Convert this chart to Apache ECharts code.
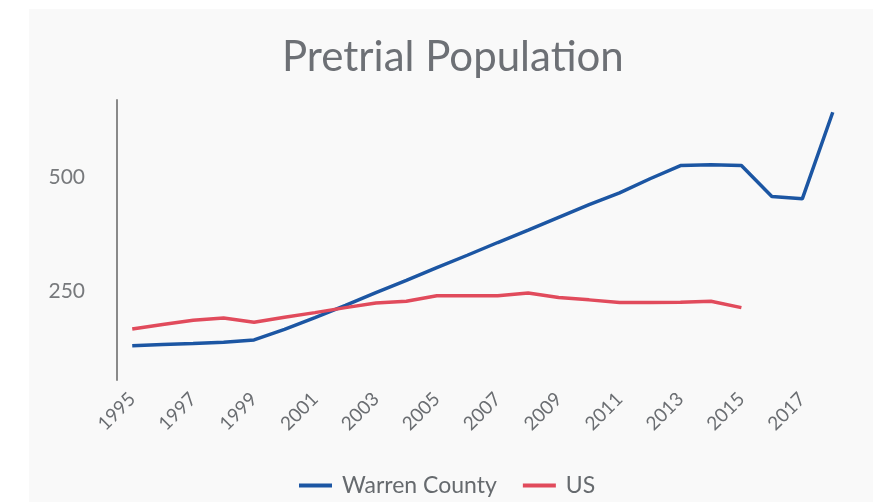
<!DOCTYPE html>
<html>
<head>
<meta charset="utf-8">
<script src="https://cdn.jsdelivr.net/npm/echarts@6/dist/echarts.min.js"></script>
<style>
html,body{margin:0;padding:0;background:#ffffff;}
#chart{width:873px;height:502px;}
</style>
</head>
<body>
<div id="chart"></div>
<script>
const years = ['1995','1996','1997','1998','1999','2000','2001','2002','2003','2004','2005','2006','2007','2008','2009','2010','2011','2012','2013','2014','2015','2016','2017','2018'];
const warrenCounty = [130,133,135,138,143,166,192,219,247,274,302,329,357,384,412,440,466,497,526,528,526,458,453,643];
const us = [167,177,186,191,182,193,203,214,224,228,240,240,240,246,236,231,225,225,226,228,214,null,null,null];
const yTickLabels = [250,500];

const chart = echarts.init(document.getElementById('chart'));
chart.setOption({
  backgroundColor: '#ffffff',
  animation: false,
  graphic: [{
    type: 'rect',
    z: -10,
    shape: {x: 29, y: 9, width: 844, height: 493},
    style: {fill: '#f9f9f9'}
  }],
  title: {
    text: 'Pretrial Population',
    left: 277,
    top: 31,
    textStyle: {fontFamily: 'Lato', fontWeight: 'normal', fontSize: 42, color: '#6d7075'}
  },
  legend: {
    bottom: 0,
    left: 294,
    icon: 'rect',
    itemWidth: 33,
    itemHeight: 4,
    itemGap: 26,
    textStyle: {fontFamily: 'Lato', fontSize: 23, color: '#666a6e', padding: [0, 0, 0, 5]},
    data: ['Warren County', 'US']
  },
  grid: {left: 117, right: 25, top: 100, bottom: 122},
  xAxis: {
    type: 'category',
    data: years,
    boundaryGap: true,
    axisLine: {show: false},
    axisTick: {show: false},
    axisLabel: {
      interval: 1,
      rotate: 45,
      margin: 16,
      fontFamily: 'Lato',
      fontSize: 19,
      color: '#6a6d71'
    }
  },
  yAxis: {
    type: 'value',
    min: 55,
    max: 670,
    interval: 5,
    splitLine: {show: false},
    axisTick: {show: false},
    axisLine: {show: true, lineStyle: {color: '#8a8a8a', width: 2}},
    axisLabel: {
      margin: 32,
      fontFamily: 'Lato',
      fontSize: 21,
      color: '#77797c',
      formatter: function (v) { return yTickLabels.indexOf(v) >= 0 ? String(v) : ''; }
    }
  },
  series: [
    {
      name: 'Warren County',
      type: 'line',
      data: warrenCounty,
      showSymbol: false,
      symbol: 'none',
      lineStyle: {color: '#1c56a3', width: 3.5},
      itemStyle: {color: '#1c56a3'}
    },
    {
      name: 'US',
      type: 'line',
      data: us,
      showSymbol: false,
      symbol: 'none',
      lineStyle: {color: '#e14b5c', width: 3.5},
      itemStyle: {color: '#e14b5c'}
    }
  ]
});
</script>
</body>
</html>
